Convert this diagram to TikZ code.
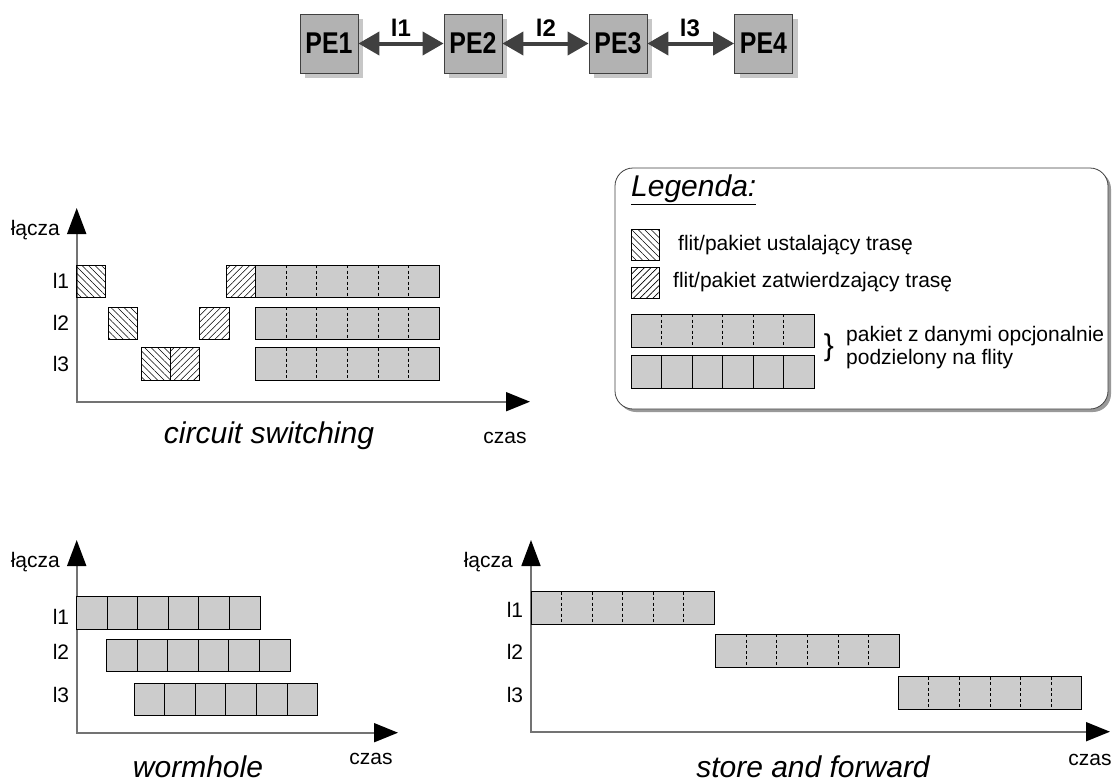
\documentclass[tikz,border=0pt]{standalone}
\usepackage{fontspec}
\setmainfont{Liberation Sans}
\usetikzlibrary{arrows.meta,patterns.meta,shadows}

% a packet of six flits: x0, ytop, ybottom, divider style
\newcommand\pktbar[4]{%
  \draw[cell] (#1,#2) rectangle ({#1+183.3},#3);
  \foreach \k in {1,...,5}{\draw[#4] ({#1+\k*30.55},#2) -- ({#1+\k*30.55},#3);}
}
% a hatched control flit: x0, y0, x1, y1, hatch angle
\newcommand\hatchcell[5]{%
  \draw[line width=0.8pt, pattern={Lines[angle=#5,distance=4.6pt,line width=0.6pt]}]
    (#1,#2) rectangle (#3,#4);
}
% narrow, tall bold label for the processing elements
\newcommand\pelabel[1]{\scalebox{0.83}[1]{#1}}

\begin{document}
\begin{tikzpicture}[x=1pt,y=-1pt]
\tikzset{
  pe/.style={draw=black!75, fill=gray!60, line width=0.8pt, minimum width=58pt,
    minimum height=59pt, inner sep=0pt, font=\bfseries\fontsize{30}{34}\selectfont,
    drop shadow={shadow xshift=5pt, shadow yshift=-5pt, fill=black!22, opacity=1}},
  link/.style={draw=black!75, line width=4pt,
    {Triangle[length=21pt,width=23pt]}-{Triangle[length=21pt,width=23pt]}},
  linklbl/.style={font=\bfseries\fontsize{24}{28}\selectfont, inner sep=0pt},
  axis/.style={draw=black!55, line width=1.8pt,
    {Triangle[length=26pt,width=19pt,black]}-{Triangle[length=24pt,width=19pt,black]}},
  lbl/.style={font=\fontsize{21}{25}\selectfont, inner sep=0pt},
  title/.style={font=\itshape\fontsize{30}{36}\selectfont, inner sep=0pt},
  cell/.style={draw=black, fill=gray!40, line width=0.8pt},
  flitsolid/.style={draw=black, line width=1pt},
  flitdash/.style={draw=black, line width=0.8pt, dash pattern=on 3pt off 2.5pt},
}
\useasboundingbox (0,0) rectangle (1112,782);

% ---- processing elements and links ----
\node[pe] (pe1) at (329,43.5) {\pelabel{PE1}};
\node[pe] (pe2) at (473,43.5) {\pelabel{PE2}};
\node[pe] (pe3) at (618,43.5) {\pelabel{PE3}};
\node[pe] (pe4) at (763.5,43.5) {\pelabel{PE4}};
\draw[link] (pe1) -- (pe2);
\draw[link] (pe2) -- (pe3);
\draw[link] (pe3) -- (pe4);
\node[linklbl] (l1) at (401,28) {l1};
\node[linklbl] (l2) at (546,28) {l2};
\node[linklbl] (l3) at (690,28) {l3};

% ---- circuit switching ----
\coordinate (co) at (76.7,401.7);
\coordinate (cy) at (76.7,208);
\coordinate (cx) at (530,401.7);
\draw[axis] (cy) -- (co) -- (cx);
\node[lbl, anchor=east] (cyl) at (60,230) {łącza};
\node[lbl] (cl1) at (61,281) {l1};
\node[lbl] (cl2) at (61,323) {l2};
\node[lbl] (cl3) at (61,364) {l3};
\node[lbl] (cxl) at (505,438) {czas};
\node[title] (ct) at (269,436) {circuit switching};
\hatchcell{76.7}{265}{105.7}{297}{-45}
\hatchcell{108}{307}{137.7}{339}{-45}
\hatchcell{141.7}{347.5}{170.5}{380}{-45}
\hatchcell{170.5}{347.5}{199.3}{380}{45}
\hatchcell{199.3}{307}{229}{339}{45}
\hatchcell{226.7}{265}{255.7}{297}{45}
\pktbar{255.7}{265}{297}{flitdash}
\pktbar{255.7}{307}{339}{flitdash}
\pktbar{255.7}{347.5}{380}{flitdash}

% ---- legend ----
\draw[rounded corners=18pt, draw=black!75, fill=white, line width=0.8pt,
  drop shadow={shadow xshift=3pt, shadow yshift=-3pt, fill=black!40, opacity=1}]
  (615,168) rectangle (1108,409);
\node[anchor=west, inner sep=0pt, font=\itshape\fontsize{30}{36}\selectfont] (leg) at (631,190) {\underline{Legenda:}};
\hatchcell{631}{229}{659}{260}{-45}
\hatchcell{631}{267}{659}{298}{45}
\node[lbl, anchor=west] (lh1) at (678,245) {flit/pakiet ustalający trasę};
\node[lbl, anchor=west] (lh2) at (673,282) {flit/pakiet zatwierdzający trasę};
\pktbar{631}{314}{347.5}{flitdash}
\pktbar{631}{355.5}{388}{flitsolid}
\node[inner sep=0pt, font=\fontsize{30}{30}\selectfont] (br) at (829,348) {\}};
\node[lbl, anchor=west, align=left, font=\fontsize{21}{23}\selectfont] (lp) at (846,348)
  {pakiet z danymi opcjonalnie\\podzielony na flity};

% ---- wormhole ----
\coordinate (wo) at (76.7,732.7);
\coordinate (wy) at (76.7,540);
\coordinate (wx) at (398,732.7);
\draw[axis] (wy) -- (wo) -- (wx);
\node[lbl, anchor=east] (wyl) at (60,562) {łącza};
\node[lbl] (wl1) at (61,617) {l1};
\node[lbl] (wl2) at (61,652) {l2};
\node[lbl] (wl3) at (61,695) {l3};
\node[lbl] (wxl) at (371,759) {czas};
\node[title] (wt) at (198,767) {wormhole};
\pktbar{76.7}{596}{629.3}{flitsolid}
\pktbar{106.7}{639.3}{671.7}{flitsolid}
\pktbar{134.3}{683.3}{715.7}{flitsolid}

% ---- store and forward ----
\coordinate (so) at (531,731.7);
\coordinate (sy) at (531,540);
\coordinate (sx) at (1110,731.7);
\draw[axis] (sy) -- (so) -- (sx);
\node[lbl, anchor=east] (syl) at (513,562) {łącza};
\node[lbl] (sl1) at (515,610) {l1};
\node[lbl] (sl2) at (515,652) {l2};
\node[lbl] (sl3) at (515,695) {l3};
\node[lbl] (sxl) at (1090,760) {czas};
\node[title] (st) at (813,767) {store and forward};
\pktbar{531}{591.7}{624}{flitdash}
\pktbar{715.7}{634.3}{667.3}{flitdash}
\pktbar{898.3}{676.7}{709.3}{flitdash}
\end{tikzpicture}
\end{document}
